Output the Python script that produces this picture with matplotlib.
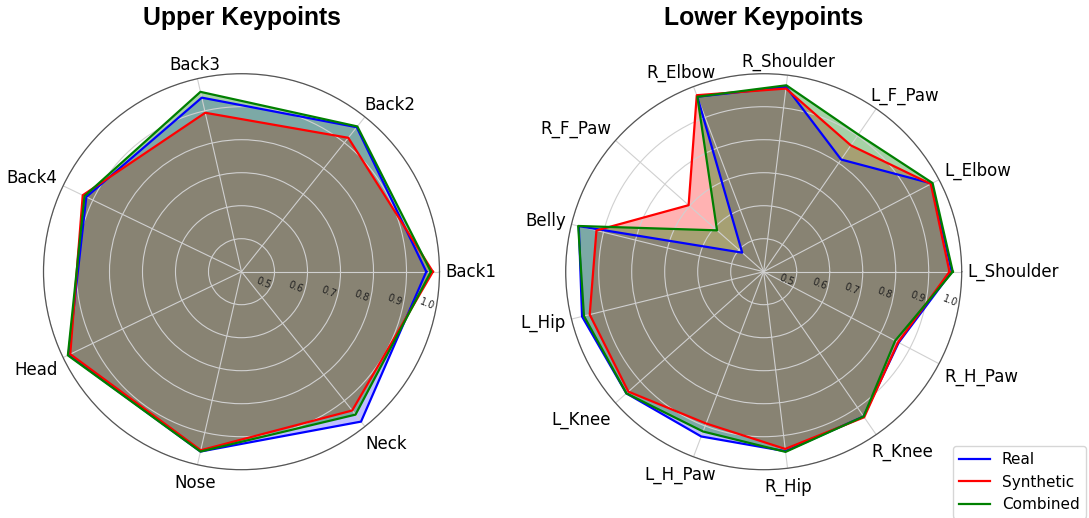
import numpy as np
import matplotlib
matplotlib.use("Agg")
import matplotlib.pyplot as plt

upper_labels = ["Back1", "Back2", "Back3", "Back4", "Head", "Nose", "Neck"]
upper_real = [0.960, 0.960, 0.941, 0.922, 0.982, 0.959, 0.981]
upper_synth = [0.980, 0.919, 0.894, 0.934, 0.976, 0.955, 0.938]
upper_comb = [0.974, 0.963, 0.959, 0.928, 0.984, 0.959, 0.954]

lower_labels = ["L_Shoulder", "L_Elbow", "L_F_Paw", "R_Shoulder", "R_Elbow",
                "R_F_Paw", "Belly", "L_Hip", "L_Knee", "L_H_Paw", "R_Hip",
                "R_Knee", "R_H_Paw"]
lower_real = [0.970, 0.975, 0.813, 0.964, 0.967, 0.487, 0.977, 0.967, 0.956,
              0.934, 0.948, 0.933, 0.862]
lower_synth = [0.963, 0.972, 0.865, 0.959, 0.972, 0.704, 0.922, 0.943, 0.948,
               0.892, 0.941, 0.936, 0.860]
lower_comb = [0.973, 0.978, 0.905, 0.969, 0.967, 0.589, 0.979, 0.961, 0.956,
              0.918, 0.950, 0.933, 0.850]

series_names = ["Real", "Synthetic", "Combined"]
series_colors = ["blue", "red", "green"]
fill_alphas = [0.25, 0.3, 0.35]
rticks = [0.5, 0.6, 0.7, 0.8, 0.9, 1.0]

W, H = 1089, 518
fig = plt.figure(figsize=(W / 100, H / 100), dpi=100)
renderer = fig.canvas.get_renderer()

R = 198


def make_ax(cx, cy):
    return fig.add_axes([(cx - R) / W, 1 - (cy + R) / H, 2 * R / W, 2 * R / H],
                        projection="polar")


def soft(u, lo, span):
    return np.sign(u) * np.clip((abs(u) - lo) / span, 0, 1)


def radar(ax, labels, series, roff):
    n = len(labels)
    angles = np.linspace(0, 2 * np.pi, n, endpoint=False)
    closed = np.concatenate([angles, angles[:1]])
    for vals, name, col, a in zip(series, series_names, series_colors, fill_alphas):
        v = np.concatenate([vals, vals[:1]])
        ax.plot(closed, v, color=col, lw=1.6, label=name)
        ax.fill(closed, v, color=col, alpha=a, lw=0)
    ax.set_ylim(0.4, 1.0)
    ax.set_xticks(angles)
    ax.set_xticklabels([])
    ax.set_yticks(rticks)
    ax.set_yticklabels([])
    ax.grid(True, color="#d0d0d0", lw=0.8)
    ax.spines["polar"].set_color("#555555")
    ax.spines["polar"].set_linewidth(0.9)

    # category labels, anchored outward from the outer circle
    for ang, lab in zip(angles, labels):
        c, s = np.cos(ang), np.sin(ang)
        t = ax.annotate(lab, xy=(ang, 1.0), xytext=(0, 0),
                        textcoords="offset pixels", ha="center", va="center",
                        fontsize=12, annotation_clip=False)
        bb = t.get_window_extent(renderer)
        hw, hh = bb.width / 2, bb.height / 2 * 0.85
        p = 6
        dx = p * c + hw * soft(c, 0.2, 0.5)
        dy = p * s + hh * soft(s, 0.1, 0.5) - (5 if s < -0.3 else 0)
        t.set_position((dx, dy))

    # radial tick labels
    rang = np.deg2rad(-7.5)
    for r in rticks:
        ax.annotate(f"{r:.1f}", xy=(rang, r), xytext=roff,
                    textcoords="offset pixels", ha="center", va="center",
                    fontsize=7, rotation=-22, color="#222222",
                    annotation_clip=False)


ax1 = make_ax(241.5, 271.7)
radar(ax1, upper_labels, [upper_real, upper_synth, upper_comb], (-11, -7))
ax2 = make_ax(763.7, 271.7)
radar(ax2, lower_labels, [lower_real, lower_synth, lower_comb], (-10, -4))

fig.text(241.5 / W, 1 - 18 / H, "Upper Keypoints", ha="center", va="center",
         fontsize=17.8, fontweight="bold", family="Liberation Sans")
fig.text(763.7 / W, 1 - 18 / H, "Lower Keypoints", ha="center", va="center",
         fontsize=17.8, fontweight="bold", family="Liberation Sans")

handles, lbls = ax2.get_legend_handles_labels()
fig.legend(handles, lbls, loc="upper left", bbox_to_anchor=(953 / W, 1 - 446 / H),
           fontsize=11, frameon=True, borderaxespad=0)

fig.savefig("out.png", dpi=100)
